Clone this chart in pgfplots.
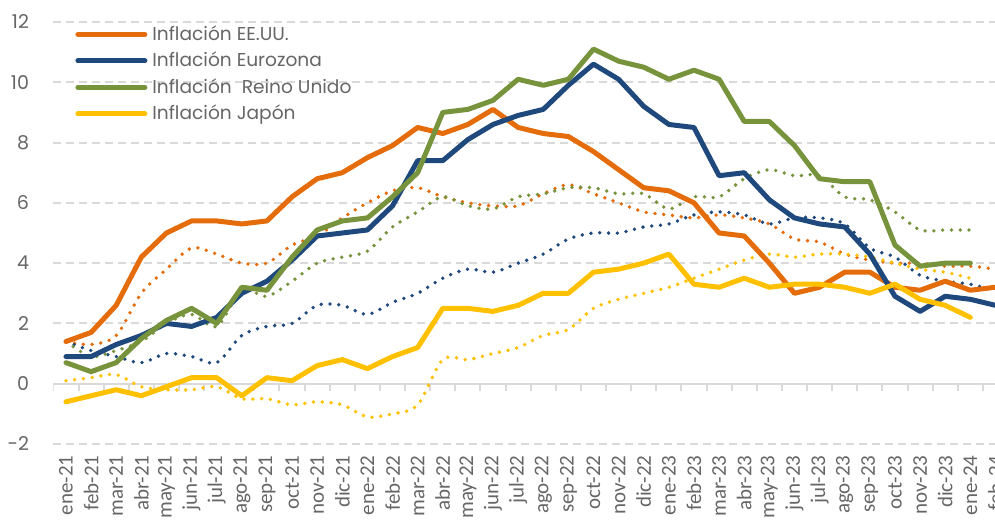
\documentclass[border=0pt]{standalone}
\usepackage{pgfplots}
\pgfplotsset{compat=1.18}
\usepackage{pgfplotstable}
\usepackage{fontspec}
\setmainfont{Poppins}
\newfontfamily\carlito{Carlito}
\definecolor{cUS}{HTML}{E46C0A}
\definecolor{cEZ}{HTML}{1F497D}
\definecolor{cUK}{HTML}{77933C}
\definecolor{cJP}{HTML}{FFC000}
\definecolor{gridc}{HTML}{D9D9D9}
\definecolor{txt}{HTML}{666666}
\pgfplotstableread{
i us usc ez ezc uk ukc jp jpc
0 1.4 1.4 0.9 1.4 0.7 1.4 -0.6 0.1
1 1.7 1.3 0.9 1.1 0.4 0.9 -0.4 0.2
2 2.6 1.6 1.3 0.9 0.7 1.1 -0.2 0.3
3 4.2 3.0 1.6 0.7 1.5 1.4 -0.4 -0.1
4 5.0 3.8 2.0 1.0 2.1 2.0 -0.1 -0.2
5 5.4 4.5 1.9 0.9 2.5 2.3 0.2 -0.2
6 5.4 4.3 2.2 0.7 2.0 1.9 0.2 -0.1
7 5.3 4.0 3.0 1.6 3.2 3.1 -0.4 -0.5
8 5.4 4.0 3.4 1.9 3.1 2.9 0.2 -0.5
9 6.2 4.6 4.1 2.0 4.2 3.4 0.1 -0.7
10 6.8 4.9 4.9 2.6 5.1 4.0 0.6 -0.6
11 7.0 5.5 5.0 2.6 5.4 4.2 0.8 -0.7
12 7.5 6.0 5.1 2.3 5.5 4.4 0.5 -1.1
13 7.9 6.4 5.9 2.7 6.2 5.2 0.9 -1.0
14 8.5 6.5 7.4 3.0 7.0 5.7 1.2 -0.7
15 8.3 6.2 7.4 3.5 9.0 6.2 2.5 0.8
16 8.6 6.0 8.1 3.8 9.1 5.9 2.5 0.8
17 9.1 5.9 8.6 3.7 9.4 5.8 2.4 1.0
18 8.5 5.9 8.9 4.0 10.1 6.2 2.6 1.2
19 8.3 6.3 9.1 4.3 9.9 6.3 3.0 1.6
20 8.2 6.6 9.9 4.8 10.1 6.5 3.0 1.8
21 7.7 6.3 10.6 5.0 11.1 6.5 3.7 2.5
22 7.1 6.0 10.1 5.0 10.7 6.3 3.8 2.8
23 6.5 5.7 9.2 5.2 10.5 6.3 4.0 3.0
24 6.4 5.6 8.6 5.3 10.1 5.8 4.3 3.2
25 6.0 5.5 8.5 5.6 10.4 6.2 3.3 3.5
26 5.0 5.6 6.9 5.7 10.1 6.2 3.2 3.8
27 4.9 5.5 7.0 5.6 8.7 6.8 3.5 4.1
28 4.0 5.3 6.1 5.3 8.7 7.1 3.2 4.3
29 3.0 4.8 5.5 5.5 7.9 6.9 3.3 4.2
30 3.2 4.7 5.3 5.5 6.8 6.9 3.3 4.3
31 3.7 4.3 5.2 5.3 6.7 6.2 3.2 4.3
32 3.7 4.1 4.3 4.5 6.7 6.1 3.0 4.2
33 3.2 4.0 2.9 4.2 4.6 5.7 3.3 4.0
34 3.1 4.0 2.4 3.6 3.9 5.1 2.8 3.8
35 3.4 3.9 2.9 3.4 4.0 5.1 2.6 3.7
36 3.1 3.9 2.8 3.3 4.0 5.1 2.2 3.5
37 3.2 3.8 2.6 3.1 nan nan nan nan
}\datatable
\begin{document}
\begin{tikzpicture}
\useasboundingbox (0,0) rectangle (497.5pt,261pt);
\begin{scope}[overlay]
\clip (0,0) rectangle (497.5pt,261pt);
\begin{axis}[
  at={(26.7pt,39pt)}, anchor=south west,
  scale only axis, width=477.3pt, height=211pt,
  xmin=-0.5, xmax=37.5, ymin=-2, ymax=12,
  axis line style={draw=none},
  xtick={0,...,37},
  xticklabels={ene-21,feb-21,mar-21,abr-21,may-21,jun-21,jul-21,ago-21,sep-21,oct-21,nov-21,dic-21,ene-22,feb-22,mar-22,abr-22,may-22,jun-22,jul-22,ago-22,sep-22,oct-22,nov-22,dic-22,ene-23,feb-23,mar-23,abr-23,may-23,jun-23,jul-23,ago-23,sep-23,oct-23,nov-23,dic-23,ene-24,feb-24},
  ytick={-2,0,...,12},
  major tick length=0pt,
  xtick style={draw=none}, ytick style={draw=none},
  xticklabel style={rotate=90, anchor=east, inner sep=0pt, xshift=-5.5pt, font=\carlito\fontsize{10.5}{12}\selectfont, text=txt},
  yticklabel style={anchor=east, inner sep=0pt, xshift=-12pt, font=\fontsize{9.5}{11}\selectfont, text=txt},
  /pgf/number format/assume math mode=true,
  ymajorgrids,
  grid style={gridc, line width=1pt, dash pattern=on 4pt off 2.5pt},
  legend style={at={(rel axis cs:0,1)}, anchor=north west, xshift=10.8pt, yshift=-2pt,
    draw=none, fill=none, inner sep=0pt, row sep=4.25pt, column sep=2.5pt,
    font=\fontsize{9.3}{10}\selectfont, text=txt,
    nodes={inner sep=0pt, text height=7pt, text depth=2pt, anchor=base west}},
  legend cell align=left,
  legend image code/.code={\draw[#1, line cap=round] (1.25pt,3pt) -- (34.75pt,3pt);},
]
\draw[gridc, line width=1pt] (axis cs:-0.5,0) -- (axis cs:37.5,0);
\pgfplotsinvokeforeach{-0.5,0.5,...,37.5}{
  \draw[gridc, line width=1pt] (axis cs:#1,0) -- ++(0pt,-3.5pt);
}
\pgfplotsset{dotline/.style={line width=1.9pt, line cap=round, dash pattern=on 0pt off 4.4pt, smooth, tension=0.5, forget plot}}
\addplot[cUS, dotline] table[x=i, y=usc] {\datatable};
\addplot[cEZ, dotline] table[x=i, y=ezc] {\datatable};
\addplot[cUK, dotline] table[x=i, y=ukc] {\datatable};
\addplot[cJP, dotline] table[x=i, y=jpc] {\datatable};
\pgfplotsset{solline/.style={line width=2.5pt, line join=round, line cap=round}}
\addplot[cUS, solline] table[x=i, y=us] {\datatable};
\addlegendentry{Inflación EE.UU.}
\addplot[cEZ, solline] table[x=i, y=ez] {\datatable};
\addlegendentry{Inflación\ Eurozona}
\addplot[cUK, solline] table[x=i, y=uk] {\datatable};
\addlegendentry{Inflación\ \ Reino Unido}
\addplot[cJP, solline] table[x=i, y=jp] {\datatable};
\addlegendentry{Inflación Japón}
\end{axis}
\end{scope}
\end{tikzpicture}
\end{document}
